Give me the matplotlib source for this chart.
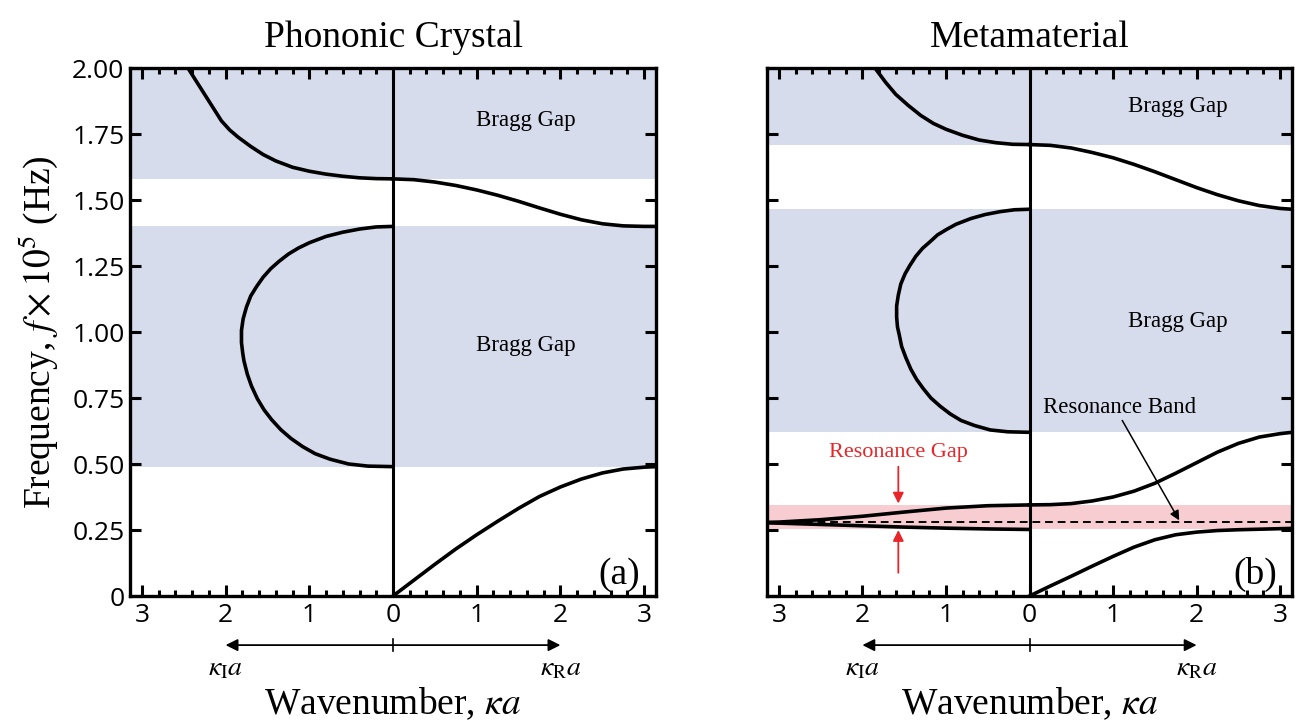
import matplotlib
matplotlib.use('Agg')
import matplotlib.pyplot as plt
import matplotlib.transforms as mtransforms
from matplotlib.ticker import MultipleLocator, NullLocator, FixedLocator
import numpy as np

plt.rcParams['font.family'] = ['Liberation Serif', 'DejaVu Serif']
plt.rcParams['mathtext.fontset'] = 'stix'

band_blue = '#d6dcec'
band_pink = '#f8cdd2'
red = '#e8262a'

# ---- Phononic crystal (a) ----
# real branches: kappa_R a vs f (x1e5 Hz)
pc_ac_k = [0, 0.25, 0.5, 0.75, 1.0, 1.25, 1.5, 1.75, 2.0, 2.25, 2.5, 2.75, 3.0, 3.1416]
pc_ac_f = [0, 0.06, 0.12, 0.178, 0.232, 0.283, 0.332, 0.377, 0.413, 0.443, 0.466, 0.481, 0.488, 0.49]
pc_up_k = [0, 0.25, 0.5, 0.75, 1.0, 1.25, 1.5, 1.75, 2.0, 2.25, 2.5, 2.75, 3.0, 3.1416]
pc_up_f = [1.58, 1.577, 1.568, 1.555, 1.538, 1.518, 1.495, 1.47, 1.446, 1.425, 1.41, 1.402, 1.40, 1.40]
# imaginary branches: kappa_I a vs f
pc_im_top_k = [0, 0.2, 0.4, 0.6, 0.8, 1.0, 1.2, 1.4, 1.55, 1.7, 1.85, 1.95, 2.05, 2.15, 2.25, 2.35, 2.45]
pc_im_top_f = [1.58, 1.581, 1.584, 1.59, 1.598, 1.609, 1.624, 1.648, 1.672, 1.703, 1.738, 1.765, 1.80,
               1.85, 1.90, 1.95, 2.0]
pc_loop_k = [0, 0.2, 0.4, 0.6, 0.8, 1.0, 1.13, 1.25, 1.36, 1.46, 1.55, 1.63, 1.70, 1.75, 1.79, 1.81,
             1.81, 1.795, 1.78, 1.74, 1.69, 1.62, 1.54, 1.45, 1.34, 1.22, 1.08, 0.93, 0.75, 0.53, 0.3, 0]
pc_loop_f = [1.40, 1.398, 1.39, 1.378, 1.362, 1.338, 1.318, 1.295, 1.268, 1.24, 1.208, 1.172, 1.136,
             1.095, 1.05, 1.006, 0.96, 0.92, 0.89, 0.84, 0.795, 0.747, 0.705, 0.668, 0.63, 0.597,
             0.566, 0.539, 0.518, 0.50, 0.492, 0.49]
pc_gaps = [(1.58, 2.0), (0.49, 1.40)]

# ---- Metamaterial (b) ----
mm_ac_k = [0, 0.25, 0.5, 0.75, 1.0, 1.25, 1.5, 1.75, 2.0, 2.25, 2.5, 2.75, 3.0, 3.1416]
mm_ac_f = [0, 0.038, 0.075, 0.113, 0.15, 0.185, 0.213, 0.232, 0.242, 0.248, 0.251, 0.253, 0.255, 0.256]
mm_mid_k = [0, 0.25, 0.5, 0.75, 1.0, 1.25, 1.5, 1.75, 2.0, 2.25, 2.5, 2.75, 3.0, 3.1416]
mm_mid_f = [0.345, 0.346, 0.35, 0.36, 0.375, 0.397, 0.427, 0.465, 0.505, 0.545, 0.578, 0.602, 0.615, 0.62]
mm_up_k = [0, 0.25, 0.5, 0.75, 1.0, 1.25, 1.5, 1.75, 2.0, 2.25, 2.5, 2.75, 3.0, 3.1416]
mm_up_f = [1.71, 1.707, 1.697, 1.68, 1.66, 1.635, 1.607, 1.577, 1.547, 1.52, 1.497, 1.479, 1.468, 1.465]
mm_im_top_k = [0, 0.2, 0.4, 0.6, 0.8, 1.0, 1.15, 1.3, 1.45, 1.6, 1.72, 1.85]
mm_im_top_f = [1.71, 1.711, 1.717, 1.727, 1.745, 1.768, 1.79, 1.82, 1.858, 1.90, 1.945, 2.0]
mm_loop_k = [0, 0.18, 0.35, 0.53, 0.70, 0.88, 0.99, 1.10, 1.19, 1.28, 1.36, 1.43, 1.49, 1.54, 1.57,
             1.59, 1.59, 1.58, 1.56, 1.53, 1.48, 1.42, 1.35, 1.27, 1.18, 1.07, 0.95, 0.82, 0.66,
             0.47, 0.26, 0]
mm_loop_f = [1.465, 1.463, 1.456, 1.445, 1.43, 1.408, 1.389, 1.368, 1.342, 1.317, 1.287, 1.253, 1.22,
             1.182, 1.14, 1.099, 1.056, 1.019, 0.991, 0.945, 0.903, 0.859, 0.82, 0.785, 0.75, 0.719,
             0.69, 0.665, 0.646, 0.629, 0.622, 0.62]
mm_res_hi_k = [0, 0.5, 1.0, 1.5, 2.0, 2.5, 3.0, 3.1416]
mm_res_hi_f = [0.345, 0.342, 0.333, 0.318, 0.302, 0.289, 0.28, 0.279]
mm_res_lo_k = [0, 0.5, 1.0, 1.5, 2.0, 2.5, 3.0, 3.1416]
mm_res_lo_f = [0.252, 0.254, 0.257, 0.261, 0.266, 0.271, 0.276, 0.277]
mm_gaps = [(1.71, 2.0), (0.62, 1.465)]
mm_res_gap = (0.255, 0.345)
mm_res_freq = 0.282

yticks = [0, 0.25, 0.5, 0.75, 1.0, 1.25, 1.5, 1.75, 2.0]
ytick_labels = ['0', '0.25', '0.50', '0.75', '1.00', '1.25', '1.50', '1.75', '2.00']
xticks = [-3, -2, -1, 0, 1, 2, 3]

fig = plt.figure(figsize=(13.04, 7.2), dpi=100)
ax_a = fig.add_axes([130 / 1304, 124 / 720, 526 / 1304, 528 / 720])
ax_b = fig.add_axes([767 / 1304, 124 / 720, 525 / 1304, 528 / 720])

lw = 2.6


def neg(v):
    return [-x for x in v]


def style_axes(ax, title, tag, show_yticklabels):
    ax.set_xlim(-np.pi, np.pi)
    ax.set_ylim(0, 2.0)
    ax.axvline(0, color='k', lw=2.2, zorder=3)
    ax.xaxis.set_major_locator(FixedLocator(xticks))
    ax.set_xticklabels([str(abs(t)) for t in xticks], fontfamily='Open Sans', fontsize=19)
    ax.xaxis.set_minor_locator(MultipleLocator(0.2))
    ax.set_yticks(yticks)
    if show_yticklabels:
        ax.set_yticklabels(ytick_labels, fontfamily='Open Sans', fontsize=19)
    else:
        ax.set_yticklabels([])
    ax.yaxis.set_minor_locator(NullLocator())
    ax.tick_params(which='both', direction='in', top=True, right=True, width=2.2)
    ax.tick_params(which='major', length=8, pad=5)
    ax.tick_params(which='minor', length=4.5)
    ax.tick_params(axis='y', which='major', pad=4)
    for sp in ax.spines.values():
        sp.set_linewidth(2.4)
    ax.set_title(title, fontsize=27, pad=15)
    ax.text(2.7, 0.08, tag, fontsize=27, ha='center', va='center')

    # kappa_I / kappa_R arrows under the axis
    trans = mtransforms.blended_transform_factory(ax.transData, ax.transAxes)
    yb = -0.093
    for end in (-2, 2):
        ax.annotate('', xy=(end, yb), xytext=(0, yb), xycoords=trans, textcoords=trans,
                    arrowprops=dict(arrowstyle='-|>', color='k', lw=1.3, mutation_scale=18,
                                    shrinkA=0, shrinkB=0),
                    annotation_clip=False)
    ax.plot([0, 0], [yb - 0.012, yb + 0.012], color='k', lw=1.2, transform=trans, clip_on=False)
    ax.text(-2, -0.138, r'$\kappa_{\mathrm{I}}a$', transform=trans, fontsize=20, ha='center', va='center')
    ax.text(2, -0.138, r'$\kappa_{\mathrm{R}}a$', transform=trans, fontsize=20, ha='center', va='center')
    ax.text(0, -0.205, r'Wavenumber, $\kappa a$', transform=trans, fontsize=27, ha='center', va='center')


# (a) phononic crystal
for lo, hi in pc_gaps:
    ax_a.axhspan(lo, hi, color=band_blue, lw=0, zorder=0)
ax_a.plot(pc_ac_k, pc_ac_f, color='k', lw=lw, zorder=4)
ax_a.plot(pc_up_k, pc_up_f, color='k', lw=lw, zorder=4)
ax_a.plot(neg(pc_im_top_k), pc_im_top_f, color='k', lw=lw, zorder=4, solid_joinstyle='round')
ax_a.plot(neg(pc_loop_k), pc_loop_f, color='k', lw=lw, zorder=4, solid_joinstyle='round')
ax_a.text(1.59, 1.80, 'Bragg Gap', fontsize=16.5, ha='center', va='center')
ax_a.text(1.59, 0.95, 'Bragg Gap', fontsize=16.5, ha='center', va='center')
style_axes(ax_a, 'Phononic Crystal', '(a)', True)

# (b) metamaterial
for lo, hi in mm_gaps:
    ax_b.axhspan(lo, hi, color=band_blue, lw=0, zorder=0)
ax_b.axhspan(*mm_res_gap, color=band_pink, lw=0, zorder=0)
ax_b.axhline(mm_res_freq, color='k', lw=1.4, ls=(0, (4, 2.5)), zorder=2)
ax_b.plot(mm_ac_k, mm_ac_f, color='k', lw=lw, zorder=4)
ax_b.plot(mm_mid_k, mm_mid_f, color='k', lw=lw, zorder=4)
ax_b.plot(mm_up_k, mm_up_f, color='k', lw=lw, zorder=4)
ax_b.plot(neg(mm_im_top_k), mm_im_top_f, color='k', lw=lw, zorder=4, solid_joinstyle='round')
ax_b.plot(neg(mm_loop_k), mm_loop_f, color='k', lw=lw, zorder=4, solid_joinstyle='round')
ax_b.plot(neg(mm_res_hi_k), mm_res_hi_f, color='k', lw=lw, zorder=4)
ax_b.plot(neg(mm_res_lo_k), mm_res_lo_f, color='k', lw=lw, zorder=4)
ax_b.text(1.78, 1.855, 'Bragg Gap', fontsize=16.5, ha='center', va='center')
ax_b.text(1.78, 1.04, 'Bragg Gap', fontsize=16.5, ha='center', va='center')

# resonance gap markers
ax_b.text(-1.57, 0.545, 'Resonance Gap', color=red, fontsize=16, ha='center', va='center')
ax_b.annotate('', xy=(-1.57, mm_res_gap[1]), xytext=(-1.57, 0.49),
              arrowprops=dict(arrowstyle='-|>', color=red, lw=1.3, mutation_scale=16,
                              shrinkA=0, shrinkB=1))
ax_b.annotate('', xy=(-1.57, mm_res_gap[0]), xytext=(-1.57, 0.088),
              arrowprops=dict(arrowstyle='-|>', color=red, lw=1.3, mutation_scale=16,
                              shrinkA=0, shrinkB=1))

# resonance band callout
ax_b.text(1.08, 0.713, 'Resonance Band', fontsize=16.5, ha='center', va='center')
ax_b.annotate('', xy=(1.80, mm_res_freq), xytext=(1.11, 0.665),
              arrowprops=dict(arrowstyle='-|>', color='k', lw=1.1, mutation_scale=14,
                              shrinkA=0, shrinkB=1))
style_axes(ax_b, 'Metamaterial', '(b)', False)

fig.text(38 / 1304, 1 - 332 / 720, r'Frequency, $f\times10^5$ (Hz)', rotation=90,
         fontsize=27, ha='center', va='center')

fig.savefig('out.png', dpi=100, facecolor='white')
